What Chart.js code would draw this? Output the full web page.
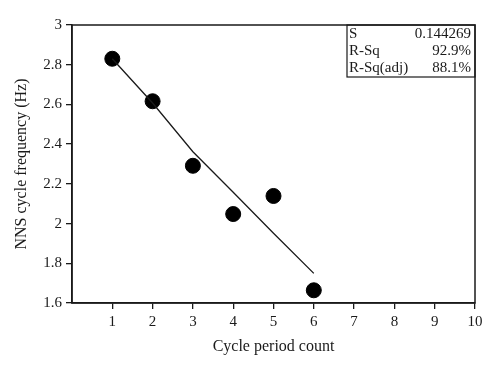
<!DOCTYPE html>
<html>
<head>
<meta charset="utf-8">
<script src="https://cdn.jsdelivr.net/npm/chart.js@4"></script>
<style>
  html, body { margin: 0; padding: 0; background: #fff; }
</style>
</head>
<body>
<canvas id="chart" width="500" height="370"></canvas>
<script>
// Données
const cycleCounts = [1, 2, 3, 4, 5, 6];
const nnsFrequency = [2.83, 2.616, 2.291, 2.048, 2.139, 1.664];
// Courbe d'ajustement
const fitCounts = [1, 2, 3, 4, 5, 6];
const fitFrequency = [2.83, 2.607, 2.362, 2.158, 1.951, 1.749];
// Graduations
const xTicks = [0, 1, 2, 3, 4, 5, 6, 7, 8, 9, 10];
const yTicks = [1.6, 1.8, 2, 2.2, 2.4, 2.6, 2.8, 3];
// Encadré statistique
const statNames = ['S', 'R-Sq', 'R-Sq(adj)'];
const statValues = ['0.144269', '92.9%', '88.1%'];

const serif = '"Liberation Serif", "DejaVu Serif", serif';
const ink = '#1a1a1a';

// Cadre complet + encadré des statistiques
const framePlugin = {
    id: 'frame',
    afterDraw(chart) {
        const { ctx, chartArea: a } = chart;
        ctx.save();
        ctx.strokeStyle = ink;
        ctx.lineWidth = 1.5;
        ctx.strokeRect(a.left, a.top, a.right - a.left, a.bottom - a.top);

        const boxLeft = 347, boxBottom = 77;
        ctx.lineWidth = 1.2;
        ctx.strokeRect(boxLeft, a.top, a.right - boxLeft, boxBottom - a.top);

        ctx.fillStyle = ink;
        ctx.font = '15px ' + serif;
        ctx.textBaseline = 'middle';
        statNames.forEach((name, i) => {
            const y = a.top + 9 + i * 17;
            ctx.textAlign = 'left';
            ctx.fillText(name, boxLeft + 2, y);
            ctx.textAlign = 'right';
            ctx.fillText(statValues[i], a.right - 4, y);
        });
        ctx.restore();
    }
};

new Chart(document.getElementById('chart'), {
    type: 'scatter',
    data: {
        datasets: [
            {
                label: 'Ajustement',
                type: 'line',
                data: fitCounts.map((x, i) => ({ x: x, y: fitFrequency[i] })),
                borderColor: ink,
                borderWidth: 1.3,
                pointRadius: 0,
                fill: false,
                tension: 0
            },
            {
                label: 'NNS',
                data: cycleCounts.map((x, i) => ({ x: x, y: nnsFrequency[i] })),
                backgroundColor: '#000',
                borderColor: '#000',
                pointRadius: 7.5,
                pointHoverRadius: 7.5
            }
        ]
    },
    options: {
        responsive: false,
        animation: false,
        layout: { padding: { top: 25, right: 25, left: 12, bottom: 14 } },
        plugins: {
            legend: { display: false },
            tooltip: { enabled: false }
        },
        scales: {
            x: {
                type: 'linear',
                min: 0,
                max: 10,
                afterBuildTicks: (scale) => { scale.ticks = xTicks.map(v => ({ value: v })); },
                afterFit: (scale) => { scale.height = 53; },
                ticks: {
                    color: ink,
                    font: { family: serif, size: 15 },
                    padding: 4,
                    maxRotation: 0,
                    callback: (v) => v === 0 ? '' : String(v)
                },
                grid: {
                    drawOnChartArea: false,
                    tickLength: 6,
                    color: (c) => c.tick && c.tick.value === 0 ? 'rgba(0,0,0,0)' : ink,
                    lineWidth: 1.3
                },
                border: { color: ink, width: 1.5 },
                title: {
                    display: true,
                    text: 'Cycle period count',
                    color: ink,
                    font: { family: serif, size: 16 },
                    padding: { top: 6, bottom: 0 }
                }
            },
            y: {
                type: 'linear',
                min: 1.6,
                max: 3,
                afterBuildTicks: (scale) => { scale.ticks = yTicks.map(v => ({ value: v })); },
                afterFit: (scale) => { scale.width = 60; },
                ticks: {
                    color: ink,
                    font: { family: serif, size: 15 },
                    padding: 4,
                    callback: (v) => String(Math.round(v * 10) / 10)
                },
                grid: { drawOnChartArea: false, tickLength: 6, color: ink, lineWidth: 1.3 },
                border: { color: ink, width: 1.5 },
                title: {
                    display: true,
                    text: 'NNS cycle frequency (Hz)',
                    color: ink,
                    font: { family: serif, size: 16 },
                    padding: { top: 0, bottom: 2 }
                }
            }
        }
    },
    plugins: [framePlugin]
});
</script>
</body>
</html>
